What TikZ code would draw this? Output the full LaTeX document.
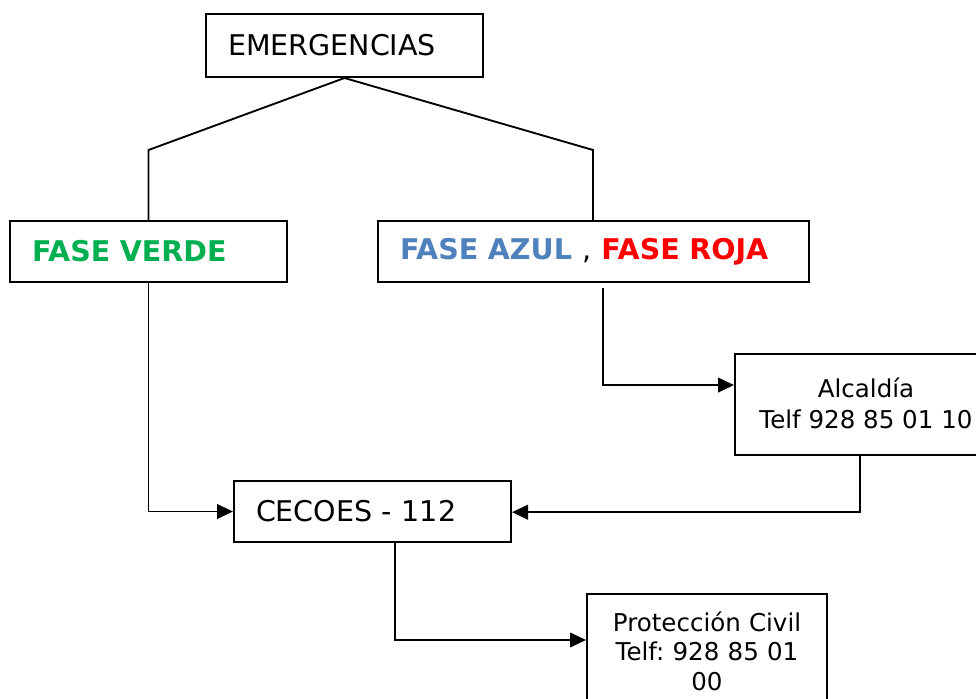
\documentclass[tikz,border=0pt]{standalone}
\usepackage{fontspec}
\setmainfont{DejaVu Sans}
\usetikzlibrary{arrows.meta}
\definecolor{fverde}{HTML}{00B050}
\definecolor{fazul}{HTML}{4F81BD}
\definecolor{froja}{HTML}{FF0000}
\tikzset{
  box/.style={draw=black, line width=1.5pt, fill=white, rectangle},
  bigtext/.style={font=\fontsize{21.4pt}{25pt}\selectfont},
  smalltext/.style={font=\fontsize{18.4pt}{24pt}\selectfont},
  leftbox/.style={box, bigtext, align=left, inner xsep=16.5pt, inner ysep=0pt},
  conn/.style={draw=black, line width=1.4pt},
  arr/.style={conn, -{Triangle[length=12pt,width=11pt]}}
}
\frenchspacing
\begin{document}
\begin{tikzpicture}[x=0.75pt, y=-0.75pt]
\useasboundingbox (0,0) rectangle (976,699);
\clip (0,0) rectangle (976,699);
\fill[white] (0,0) rectangle (976,699);

\node[leftbox, minimum width=207.75pt, minimum height=47.25pt, text width=174.75pt] (em) at (344.5,45.5) {EMERGENCIAS};

\node[leftbox, minimum width=207.75pt, minimum height=45.75pt, text width=174.75pt] (fv) at (148.5,251.5)
  {\textbf{\color{fverde}FASE VERDE}};

\node[leftbox, minimum width=323.25pt, minimum height=45.75pt, text width=290.25pt] (fa) at (593.5,251.5)
  {\textbf{\color{fazul}FASE AZUL}\hspace{0.05em} , \textbf{\color{froja}FASE ROJA}};

\node[leftbox, minimum width=207.75pt, minimum height=45.75pt, text width=174.75pt] (ce) at (372.5,511.5)
  {CECOES - 112};

\node[box, smalltext, align=center, minimum width=196.5pt, minimum height=75.75pt, inner ysep=0pt] (al) at (866,404.5)
  {\raisebox{2pt}{Alcaldía}\\[-0.5pt]\raisebox{2pt}{Telf 928 85 01 10}};

\node[box, font=\fontsize{18.4pt}{22pt}\selectfont, align=center, text width=160pt, inner xsep=10pt, inner ysep=13.5pt, anchor=north] (pc) at (707,593)
  {Protección Civil\\Telf: 928 85 01\\00};

\coordinate (kl) at (148.5,150);
\coordinate (kr) at (593,150);
\coordinate (az) at (603,288);

\draw[conn] (fv.north) -- (kl) -- (em.south) -- (kr) -- (kr |- fa.north);
\draw[arr] (fv.south) |- (ce.west);
\draw[arr] (az) |- ([yshift=14.6pt]al.west);
\draw[arr] ([xshift=-4.5pt]al.south) |- ([yshift=-0.5pt]ce.east);
\draw[arr] ([xshift=16.9pt]ce.south) |- ([yshift=-35.25pt]pc.north west);
\end{tikzpicture}
\end{document}
